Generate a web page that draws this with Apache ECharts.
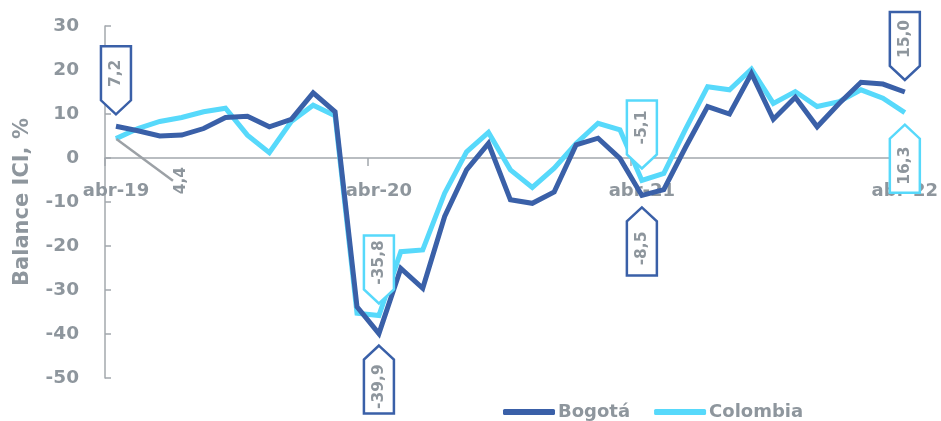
<!DOCTYPE html>
<html>
<head>
<meta charset="utf-8">
<script src="https://cdn.jsdelivr.net/npm/echarts@6/dist/echarts.min.js"></script>
<style>
html,body{margin:0;padding:0;background:#fff;}
#chart{width:941px;height:421px;}
</style>
</head>
<body>
<div id="chart"></div>
<script>
const categories = [
  'abr-19','may-19','jun-19','jul-19','ago-19','sep-19','oct-19','nov-19','dic-19','ene-20','feb-20','mar-20',
  'abr-20','may-20','jun-20','jul-20','ago-20','sep-20','oct-20','nov-20','dic-20','ene-21','feb-21','mar-21',
  'abr-21','may-21','jun-21','jul-21','ago-21','sep-21','oct-21','nov-21','dic-21','ene-22','feb-22','mar-22',
  'abr-22'
];
const bogota = [
  7.2, 6.2, 5.0, 5.2, 6.7, 9.2, 9.5, 7.1, 8.8, 14.8, 10.5, -33.8,
  -39.9, -25.1, -29.6, -13.3, -2.7, 3.3, -9.5, -10.3, -7.7, 3.0, 4.5, -0.1,
  -8.5, -7.2, 2.5, 11.7, 10.0, 19.2, 8.8, 13.8, 7.1, 12.4, 17.2, 16.8,
  15.0
];
const colombia = [
  4.4, 6.7, 8.3, 9.2, 10.5, 11.3, 5.2, 1.2, 8.3, 12.0, 9.6, -35.3,
  -35.8, -21.3, -20.9, -8.0, 1.4, 5.8, -2.7, -6.7, -2.3, 3.3, 7.9, 6.4,
  -5.1, -3.5, 6.6, 16.2, 15.5, 20.2, 12.4, 15.1, 11.7, 12.8, 15.5, 13.6,
  10.3
];
const yTicks = { min: -50, max: 30, interval: 10 };
// callout annotations: index, text, side
const bogotaCallouts = [
  { i: 0, text: '7,2', side: 'above' },
  { i: 12, text: '-39,9', side: 'below' },
  { i: 24, text: '-8,5', side: 'below' },
  { i: 36, text: '15,0', side: 'above' }
];
const colombiaCallouts = [
  { i: 12, text: '-35,8', side: 'above' },
  { i: 24, text: '-5,1', side: 'above' },
  { i: 36, text: '16,3', side: 'below' }
];
const colombiaPlainLabel = { i: 0, text: '4,4' };

const C_BOG = '#3A60A8';
const C_COL = '#57D9FB';
const GRAY = '#8E969D';
const AXIS = '#A3A8AD';
const FONT = 'DejaVu Sans';

const PATH_DOWN = 'path://M0,0 L30,0 L30,54 L15,68 L0,54 Z';
const PATH_UP = 'path://M15,0 L30,14 L30,68 L0,68 L0,14 Z';

function callouts(list, values, color) {
  return list.map(c => {
    const above = c.side === 'above';
    return {
      coord: [c.i, values[c.i]],
      symbol: above ? PATH_DOWN : PATH_UP,
      symbolSize: 68,
      symbolKeepAspect: true,
      symbolOffset: [0, above ? -46 : 46],
      itemStyle: { color: '#fff', borderColor: color, borderWidth: 2.5 },
      label: {
        show: true,
        position: 'inside',
        rotate: 90,
        offset: [above ? 7 : -7, 0],
        formatter: c.text,
        color: GRAY,
        fontFamily: FONT,
        fontWeight: 'bold',
        fontSize: 15.5
      }
    };
  });
}

const colombiaData = colombia.map((v, i) => {
  if (i !== colombiaPlainLabel.i) return v;
  return {
    value: v,
    symbol: 'circle',
    symbolSize: 1,
    itemStyle: { color: C_COL },
    label: {
      show: true,
      position: 'inside',
      rotate: 90,
      formatter: colombiaPlainLabel.text,
      color: GRAY, fontFamily: FONT, fontWeight: 'bold', fontSize: 15.5
    }
  };
});

const chart = echarts.init(document.getElementById('chart'), null, { renderer: 'canvas' });
chart.setOption({
  animation: false,
  grid: { left: 105, right: 22, top: 26, bottom: 43 },
  legend: {
    left: 498, top: 398,
    itemWidth: 52, itemHeight: 6, itemGap: 24,
    icon: 'roundRect',
    textStyle: { color: GRAY, fontFamily: FONT, fontWeight: 'bold', fontSize: 18, padding: [0,0,0,-2] },
    data: ['Bogotá', 'Colombia']
  },
  xAxis: {
    type: 'category',
    data: categories,
    boundaryGap: true,
    position: 'bottom',
    offset: -220,
    axisLine: { onZero: false, lineStyle: { color: AXIS, width: 1.5 } },
    axisTick: { show: true, interval: 11, length: 8, lineStyle: { color: AXIS, width: 1.5 } },
    axisLabel: { interval: 11, color: GRAY, fontFamily: FONT, fontWeight: 'bold', fontSize: 18, margin: 24 },
    splitLine: { show: false }
  },
  yAxis: {
    type: 'value',
    min: yTicks.min, max: yTicks.max, interval: yTicks.interval,
    name: 'Balance ICI, %',
    nameLocation: 'middle',
    nameGap: 72,
    nameRotate: 90,
    nameTextStyle: { color: GRAY, fontFamily: FONT, fontWeight: 'bold', fontSize: 21 },
    axisLine: { show: true, lineStyle: { color: AXIS, width: 1.5 } },
    axisTick: { show: true, inside: true, length: 6, lineStyle: { color: AXIS, width: 1.5 } },
    axisLabel: { color: GRAY, fontFamily: FONT, fontWeight: 'bold', fontSize: 18.5, margin: 26 },
    splitLine: { show: false }
  },
  series: [
    {
      name: 'Bogotá', type: 'line', data: bogota,
      symbol: 'none', z: 3,
      lineStyle: { color: C_BOG, width: 5, join: 'miter' },
      itemStyle: { color: C_BOG },
      markPoint: { z: 10, data: callouts(bogotaCallouts, bogota, C_BOG) }
    },
    {
      name: 'Colombia', type: 'line', data: colombiaData,
      symbol: 'none', z: 2,
      lineStyle: { color: C_COL, width: 5, join: 'miter' },
      itemStyle: { color: C_COL },
      labelLayout: function (p) {
        if (p.dataIndex === colombiaPlainLabel.i) return { dx: -42, dy: 65 };
        return {};
      },
      labelLine: { show: true, lineStyle: { color: '#9CA1A6', width: 2.5 } },
      markPoint: { z: 10, data: callouts(colombiaCallouts, colombia, C_COL) }
    }
  ]
});
</script>
</body>
</html>
